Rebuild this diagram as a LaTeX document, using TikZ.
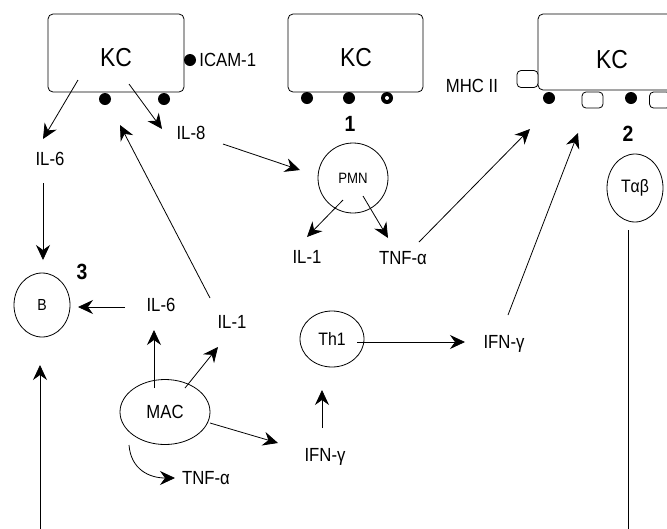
\documentclass[tikz,border=0pt]{standalone}
\usepackage{fontspec}
\setmainfont[FakeStretch=0.88]{Liberation Sans}
\usetikzlibrary{arrows.meta,shapes.geometric}
\begin{document}
\begin{tikzpicture}[x=1pt,y=-1pt,
  line width=0.8pt,
  arr/.style={-{Stealth[length=15pt,width=14pt,inset=5pt]}},
  lbl/.style={font=\fontsize{19}{21}\selectfont, inner sep=0pt},
  kctext/.style={font=\fontsize{26}{28}\selectfont, inner sep=0pt},
  num/.style={font=\bfseries\fontsize{22}{24}\selectfont, inner sep=0pt},
  kcbox/.style={draw, rounded corners=5pt, inner sep=0pt},
  cell/.style={draw, ellipse, inner sep=0pt},
  dot/.style={circle, fill, minimum size=12pt, inner sep=0pt},
  mhc/.style={draw, rounded corners=4pt, minimum width=21pt, minimum height=17pt, inner sep=0pt, fill=white}
]
\useasboundingbox (0,0) rectangle (667,528);
\clip (0,0) rectangle (667,528);

% KC boxes
\node[kcbox, minimum width=136pt, minimum height=78pt] (kc1) at (116,53) {};
\node[kctext] (kc1t) at (116,58) {KC};
\node[kcbox, minimum width=135pt, minimum height=78pt] (kc2) at (355.5,53) {};
\node[kctext] (kc2t) at (356,58) {KC};
\node[kcbox, minimum width=162pt, minimum height=76pt] (kc3) at (619,52) {};
\node[kctext] (kc3t) at (612,60) {KC};

% surface molecules
\node[dot] (icam) at (190,60) {};
\node[lbl, anchor=west] (icamt) at (199,60) {ICAM-1};
\node[dot] (d1) at (105,99) {};
\node[dot] (d2) at (164,99) {};
\node[dot] (d3) at (307,98) {};
\node[dot] (d4) at (349,98) {};
\node[dot] (d5) at (387,98) {};
\fill[white] (d5) circle[radius=2];
\node[dot] (d6) at (549,98) {};
\node[dot] (d7) at (631,98) {};
\node[mhc] (m1) at (527.5,79) {};
\node[mhc, minimum height=16pt] (m2) at (592.5,100) {};
\node[mhc, minimum height=16pt] (m3) at (660,100) {};
\node[lbl] (mhct) at (472,86) {MHC II};

% numbers
\node[num] (n1) at (350,124) {1};
\node[num] (n2) at (628,134) {2};
\node[num] (n3) at (82,272) {3};

% labels and cells
\node[lbl] (il6a) at (50,159) {IL-6};
\node[lbl] (il8) at (191,133) {IL-8};
\node[cell, minimum width=70pt, minimum height=70pt, font=\fontsize{15}{17}\selectfont] (pmn) at (353,178) {PMN};
\node[lbl] (il1a) at (307,257) {IL-1};
\node[lbl] (tnfa) at (403,258) {TNF-α};
\node[cell, minimum width=56pt, minimum height=68pt, font=\fontsize{18}{20}\selectfont] (tab) at (635,188) {Tαβ};
\node[cell, minimum width=56pt, minimum height=64pt, font=\fontsize{16}{18}\selectfont] (b) at (42,305) {B};
\node[lbl] (il6b) at (161,305) {IL-6};
\node[lbl] (il1b) at (232,322) {IL-1};
\node[cell, minimum width=64pt, minimum height=56pt, font=\fontsize{18}{20}\selectfont] (th1) at (332,339) {Th1};
\node[lbl] (ifng1) at (504,344) {IFN-γ};
\node[cell, minimum width=90pt, minimum height=65pt, font=\fontsize{19}{21}\selectfont] (mac) at (165,412) {MAC};
\node[lbl] (ifng2) at (325,457) {IFN-γ};
\node[lbl] (tnfb) at (206,478) {TNF-α};

% connector end points
\coordinate (a1s) at (78,80);   \coordinate (a1e) at (43,139);
\coordinate (a2s) at (129,84);  \coordinate (a2e) at (162,129);
\coordinate (a3s) at (223,144); \coordinate (a3e) at (300,170);
\coordinate (a4s) at (343,200); \coordinate (a4e) at (307,237);
\coordinate (a5s) at (363,196); \coordinate (a5e) at (388,238);
\coordinate (a6s) at (419,242); \coordinate (a6e) at (530,129);
\coordinate (a7s) at (508,315); \coordinate (a7e) at (578,133);
\coordinate (a8s) at (43,183);  \coordinate (a8e) at (43,260);
\coordinate (a9s) at (125,307); \coordinate (a9e) at (78,307);
\coordinate (a10s) at (210,298); \coordinate (a10e) at (120,125);
\coordinate (a11s) at (154,388); \coordinate (a11e) at (154,330);
\coordinate (a12s) at (185,388); \coordinate (a12e) at (218,347);
\coordinate (a13s) at (210,423); \coordinate (a13e) at (278,443);
\coordinate (a14s) at (129,445); \coordinate (a14e) at (175,478);
\coordinate (a15s) at (322,428); \coordinate (a15e) at (322,390);
\coordinate (a16s) at (357,342); \coordinate (a16e) at (465,342);
\coordinate (a17s) at (40,530);  \coordinate (a17e) at (40,365);
\coordinate (a18s) at (628,230); \coordinate (a18e) at (628,530);

\draw[arr] (a1s) -- (a1e);
\draw[arr] (a2s) -- (a2e);
\draw[arr] (a3s) -- (a3e);
\draw[arr] (a4s) -- (a4e);
\draw[arr] (a5s) -- (a5e);
\draw[arr] (a6s) -- (a6e);
\draw[arr] (a7s) -- (a7e);
\draw[arr] (a8s) -- (a8e);
\draw[arr] (a9s) -- (a9e);
\draw[arr] (a10s) -- (a10e);
\draw[arr] (a11s) -- (a11e);
\draw[arr] (a12s) -- (a12e);
\draw[arr] (a13s) -- (a13e);
\draw[arr] (a14s) .. controls (131,470) and (150,478) .. (a14e);
\draw[arr] (a15s) -- (a15e);
\draw[arr] (a16s) -- (a16e);
\draw[arr] (a17s) -- (a17e);
\draw (a18s) -- (a18e);
\end{tikzpicture}
\end{document}
